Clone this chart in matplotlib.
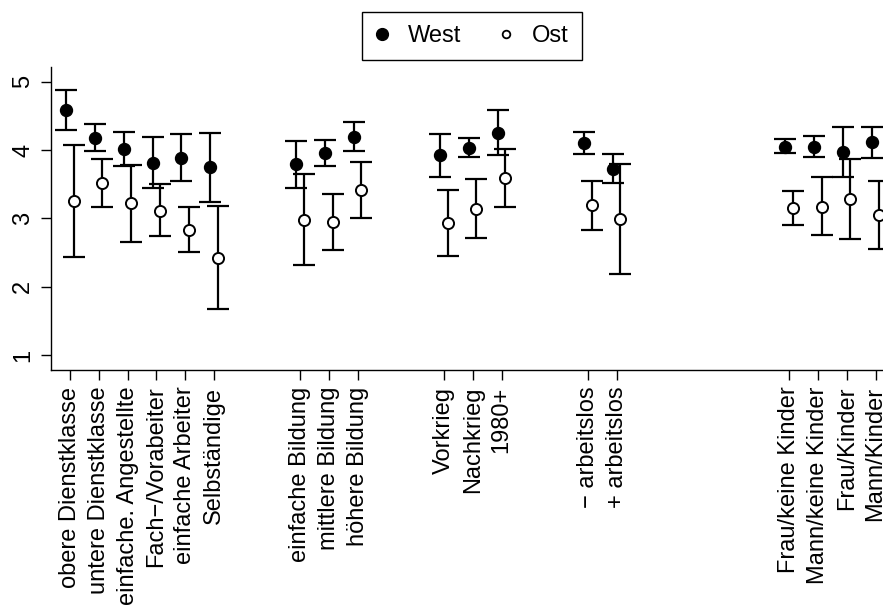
import numpy as np
import matplotlib
matplotlib.use("Agg")
import matplotlib.pyplot as plt
from matplotlib.lines import Line2D

plt.rcParams['font.family'] = ['Liberation Sans', 'DejaVu Sans']

# ---- data ----
groups = [
    ["obere Dienstklasse", "untere Dienstklasse", "einfache. Angestellte",
     "Fach\u2212/Vorabeiter", "einfache Arbeiter", "Selbständige"],
    ["einfache Bildung", "mittlere Bildung", "höhere Bildung"],
    ["Vorkrieg", "Nachkrieg", "1980+"],
    ["\u2212 arbeitslos", "+ arbeitslos"],
    ["Frau/keine Kinder", "Mann/keine Kinder", "Frau/Kinder", "Mann/Kinder"],
]
gaps_before = [0, 2, 2, 2, 5]  # empty slots before each group

west_mean = [4.59, 4.18, 4.02, 3.81, 3.88, 3.75,
             3.79, 3.95, 4.19,
             3.92, 4.03, 4.25,
             4.10, 3.72,
             4.05, 4.05, 3.97, 4.11]
west_lo = [4.30, 3.99, 3.76, 3.44, 3.54, 3.24,
           3.44, 3.77, 3.99,
           3.61, 3.90, 3.93,
           3.94, 3.51,
           3.95, 3.90, 3.61, 3.88]
west_hi = [4.88, 4.38, 4.27, 4.19, 4.23, 4.25,
           4.13, 4.14, 4.41,
           4.23, 4.18, 4.58,
           4.27, 3.94,
           4.16, 4.21, 4.33, 4.34]

ost_mean = [3.25, 3.51, 3.22, 3.11, 2.83, 2.42,
            2.98, 2.95, 3.41,
            2.93, 3.14, 3.59,
            3.19, 2.99,
            3.15, 3.17, 3.28, 3.05]
ost_lo = [2.44, 3.17, 2.65, 2.74, 2.50, 1.67,
          2.31, 2.54, 3.00,
          2.45, 2.71, 3.17,
          2.83, 2.19,
          2.90, 2.75, 2.70, 2.55]
ost_hi = [4.07, 3.87, 3.78, 3.50, 3.17, 3.18,
          3.65, 3.35, 3.82,
          3.41, 3.57, 4.01,
          3.55, 3.79,
          3.40, 3.60, 3.87, 3.54]

y_ticks = [1, 2, 3, 4, 5]

# ---- positions ----
labels = []
positions = []
pos = 0
for g, gap in zip(groups, gaps_before):
    pos += gap
    for lab in g:
        pos += 1
        positions.append(pos)
        labels.append(lab)
positions = np.array(positions, dtype=float)

wm = np.array(west_mean); wl = np.array(west_lo); wh = np.array(west_hi)
om = np.array(ost_mean); ol = np.array(ost_lo); oh = np.array(ost_hi)

W, H = 883, 608
fig = plt.figure(figsize=(W / 100, H / 100), dpi=100)
ax = fig.add_axes([51 / W, (H - 370) / H, (W - 51) / W, (370 - 67) / H])

off = 0.13
ax.errorbar(positions - off, wm, yerr=[wm - wl, wh - wm], fmt='none',
            ecolor='black', elinewidth=1.6, capsize=8, capthick=1.6, zorder=2)
ax.errorbar(positions + off, om, yerr=[om - ol, oh - om], fmt='none',
            ecolor='black', elinewidth=1.6, capsize=8, capthick=1.6, zorder=2)
ax.plot(positions - off, wm, 'o', color='black', markersize=8.6, zorder=3)
ax.plot(positions + off, om, 'o', markerfacecolor='white', markeredgecolor='black',
        markeredgewidth=1.4, markersize=8.0, zorder=3)

ax.set_xlim(0.34, 29.26)
ax.set_ylim(0.78, 5.215)

ax.set_xticks(positions)
ax.set_xticklabels(labels, rotation=90, fontsize=17)
ax.set_yticks(y_ticks)
ax.set_yticklabels([str(t) for t in y_ticks], rotation=90, va='center', fontsize=17)

ax.tick_params(axis='x', direction='out', length=7, width=1, pad=5)
ax.tick_params(axis='y', direction='out', length=7, width=1, pad=5)
for s in ['top', 'right']:
    ax.spines[s].set_visible(False)
for s in ['left', 'bottom']:
    ax.spines[s].set_linewidth(1)

handles = [Line2D([], [], marker='o', linestyle='none', color='black', markersize=8.5),
           Line2D([], [], marker='o', linestyle='none', markerfacecolor='white',
                  markeredgecolor='black', markeredgewidth=1.3, markersize=5.5)]
leg = fig.legend(handles, ['West', 'Ost'], loc='upper center',
                 bbox_to_anchor=(472 / W, 1 - 12 / H), bbox_transform=fig.transFigure,
                 ncol=2, fontsize=17, frameon=True, fancybox=False, framealpha=1,
                 edgecolor='black', borderaxespad=0, borderpad=0.55,
                 handlelength=0.6, handletextpad=0.8, columnspacing=1.6)
leg.get_frame().set_linewidth(1)

fig.savefig('out.png', dpi=100)
